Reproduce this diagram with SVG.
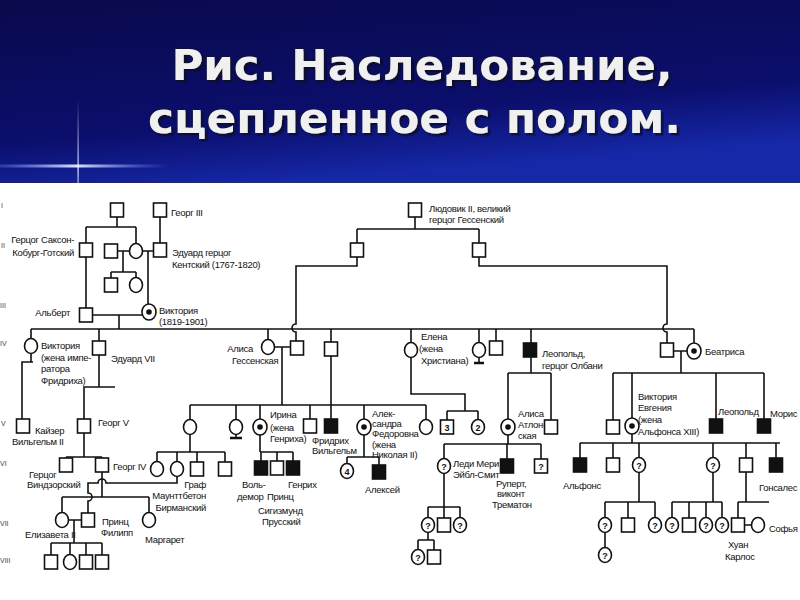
<svg xmlns="http://www.w3.org/2000/svg" width="800" height="600" viewBox="0 0 800 600">
<defs>
<linearGradient id="hdr" x1="0" y1="0" x2="0.35" y2="1">
<stop offset="0" stop-color="#0a0a4c"/>
<stop offset="0.7" stop-color="#0b0e6c"/>
<stop offset="1" stop-color="#1628a8"/>
</linearGradient>
<linearGradient id="streak" x1="0" y1="0" x2="1" y2="0">
<stop offset="0" stop-color="#6f86ff" stop-opacity="0.3"/>
<stop offset="0.45" stop-color="#e8eeff" stop-opacity="0.95"/>
<stop offset="1" stop-color="#6f86ff" stop-opacity="0"/>
</linearGradient>
<linearGradient id="vstreak" x1="0" y1="0" x2="0" y2="1">
<stop offset="0" stop-color="#ffffff" stop-opacity="0"/>
<stop offset="0.8" stop-color="#ffffff" stop-opacity="0.9"/>
<stop offset="1" stop-color="#ffffff" stop-opacity="0.6"/>
</linearGradient>
<filter id="shadow" x="-5%" y="-20%" width="110%" height="150%">
<feDropShadow dx="2.5" dy="2.5" stdDeviation="0.6" flood-color="#111111" flood-opacity="0.8"/>
</filter>
<rect id="sq" x="-6.5" y="-7" width="13" height="14" fill="#fff" stroke="#111" stroke-width="1.6"/>
<rect id="sqf" x="-6.5" y="-7" width="13" height="14" fill="#111" stroke="#111" stroke-width="1.6"/>
<ellipse id="ci" rx="6.5" ry="7.5" fill="#fff" stroke="#111" stroke-width="1.6"/>
<g id="cc"><ellipse rx="7" ry="8" fill="#fff" stroke="#111" stroke-width="1.6"/><circle r="2.8" fill="#111"/></g>
</defs>
<style>
.ln{fill:none;stroke:#111;stroke-width:1.6}
.bar{fill:none;stroke:#111;stroke-width:2.6}
.t{font-family:"Liberation Sans",Arial,sans-serif;font-size:9.5px;fill:#111;letter-spacing:-0.3px}
.e{text-anchor:end}
.q{font-family:"Liberation Sans",Arial,sans-serif;font-size:9px;font-weight:bold;fill:#111;text-anchor:middle}
.r{font-family:"Liberation Sans",Arial,sans-serif;font-size:7px;fill:#444}
.ttl{font-family:"DejaVu Sans",Verdana,sans-serif;font-weight:bold;font-size:43px;text-anchor:middle;fill:#f0f0f0}
</style>
<rect x="0" y="0" width="800" height="600" fill="#fff"/>
<g id="header">
<rect x="0" y="0" width="800" height="183" fill="url(#hdr)"/>
<rect x="0" y="164.5" width="170" height="3" fill="url(#streak)"/>
<rect x="77.5" y="100" width="1.2" height="86" fill="url(#vstreak)"/>
<g filter="url(#shadow)">
<text class="ttl" x="422" y="80" textLength="501" lengthAdjust="spacingAndGlyphs">Рис. Наследование,</text>
<text class="ttl" x="414.5" y="133" textLength="533" lengthAdjust="spacingAndGlyphs">сцепленное с полом.</text>
</g>
</g>
<g id="generations">
<text class="r" x="1" y="208">I</text>
<text class="r" x="1" y="248">II</text>
<text class="r" x="0" y="308">III</text>
<text class="r" x="0" y="346">IV</text>
<text class="r" x="1" y="426">V</text>
<text class="r" x="0" y="466">VI</text>
<text class="r" x="0" y="526">VII</text>
<text class="r" x="0" y="563">VIII</text>
</g>
<g id="connectors">
<path class="ln" d="M117,217V227 M86,227H136 M86,227V243 M136,227V243.5 M160,217V243 M117.5,251H129.5 M123,251V272 M111,272H136 M111,272V278 M136,272V277.5 M142.5,251H153.5 M148,251V304 M86,257V308"/>
<path class="ln" d="M92.5,315H142 M119,315V329 M31,329H694 M31,329V338.5 M99,329V341 M268,329V339.5 M331,329V342 M411,329V342.5 M479,329V342.5 M496,329V341 M531,329V343 M694,329V343"/>
<path class="ln" d="M415,217V229 M357,229H479 M357,229V243 M479,229V243 M357,257V266H296V324a4,4 0 0 0 0,8V341 M479,257V266H667V324a4,4 0 0 0 0,8V343"/>
<path class="ln" d="M31,353.5V362 M33,362H22V419 M99,355V387 M115,387H84V419 M84,433V457 M66,457H102 M66,457V458 M102,457V458 M102,472V497 M62,497H149 M62,497V512.5 M149,497V512.5"/>
<path class="ln" d="M177,476.5V483H106a4,4 0 0 0 -8,0H88V493a4,4 0 0 1 0,8V513 M68.5,520H81.5 M74,520V543 M51,543H102 M51,543V555 M70,543V554.5 M86,543V555 M102,543V555"/>
<path class="ln" d="M274.5,347H290.5 M282,347V405 M190,405H426 M190,405V419.5 M236,405V419.5 M260,405V419 M310,405V419 M331,356V419 M364,405V419 M426,405V419.5"/>
<path class="ln" d="M236,434.5V438 M479,357.5V363"/>
<path class="bar" d="M230,438H242 M474,363H484"/>
<path class="ln" d="M190,434.5V452 M157,452H225 M157,452V461.5 M177,452V461.5 M197,452V462 M225,452V462 M260,435V452 M260,452H293 M261,452V461 M277,452V461 M293,452V461 M364,435V457 M347,457H379 M347,457V463.5 M379,457V465"/>
<path class="ln" d="M411,357.5V394H465V411 M447,411H478 M447,411V420 M478,411V419.5"/>
<path class="ln" d="M531,357V373 M508,373H551 M508,373V419 M551,373V420 M508,435V444 M444,444H541 M444,444V458.5 M507,444V459 M541,444V459 M444,473.5V507 M428,507H460 M428,507V517.5 M444,507V518 M460,507V517.5 M428,532.5V540 M418,540H434 M418,540V549.5 M434,540V550"/>
<path class="ln" d="M673.5,351H687 M681,351V373 M613,373H764 M613,373V420 M632,373V418 M716,373V419 M764,373V419 M632,434V443 M580,443H780 M580,443V458 M613,443V458 M639,443V457.5 M713,443V457.5 M746,443V458 M776,443V458"/>
<path class="ln" d="M639,472.5V502 M605,502H655 M605,502V517.5 M628,502V518 M655,502V517.5 M605,532.5V547.5 M713,472.5V502 M672,502H722 M672,502V517.5 M689,502V518 M706,502V517.5 M722,502V517.5 M746,472V502 M738,502H769 M738,502V518 M744.5,525H751.5"/>
</g>
<g id="n-saxe-father"><use href="#sq" x="117" y="210"/></g>
<g id="n-georg3"><use href="#sq" x="160" y="210"/><text class="t" x="171" y="216">Георг III</text></g>
<g id="n-saxe"><use href="#sq" x="86" y="250"/><text class="t e" x="74" y="243">Герцог Саксон-</text><text class="t e" x="74" y="256">Кобург-Готский</text></g>
<g id="n-ii-husband"><use href="#sq" x="111" y="251"/></g>
<g id="n-ii-wife"><use href="#ci" x="136" y="251"/></g>
<g id="n-ii-son"><use href="#sq" x="111" y="285"/></g>
<g id="n-ii-daughter"><use href="#ci" x="136" y="285"/></g>
<g id="n-edward-kent"><use href="#sq" x="160" y="250"/><text class="t" x="172" y="256">Эдуард герцог</text><text class="t" x="172" y="268">Кентский (1767-1820)</text></g>
<g id="n-albert"><use href="#sq" x="86" y="315"/><text class="t e" x="70" y="316">Альберт</text></g>
<g id="n-victoria"><use href="#cc" x="149" y="312"/><text class="t" x="159" y="314">Виктория</text><text class="t" x="159" y="325">(1819-1901)</text></g>
<g id="n-ludwig2"><use href="#sq" x="415" y="210"/><text class="t" x="429" y="212">Людовик II, великий</text><text class="t" x="429" y="223">герцог Гессенский</text></g>
<g id="n-ludwig2-son1"><use href="#sq" x="357" y="250"/></g>
<g id="n-ludwig2-son2"><use href="#sq" x="479" y="250"/></g>
<g id="n-vicky"><use href="#ci" x="31" y="346"/><text class="t" x="41" y="349">Виктория</text><text class="t" x="41" y="361">(жена импе-</text><text class="t" x="41" y="372">ратора</text><text class="t" x="41" y="384">Фридриха)</text></g>
<g id="n-edward7"><use href="#sq" x="99" y="348"/><text class="t" x="111" y="362">Эдуард VII</text></g>
<g id="n-alice"><use href="#ci" x="268" y="347"/><text class="t e" x="253" y="352">Алиса</text><text class="t" x="232" y="364">Гессенская</text></g>
<g id="n-ludwig4"><use href="#sq" x="297" y="348"/></g>
<g id="n-alfred"><use href="#sq" x="331" y="349"/></g>
<g id="n-helena"><use href="#ci" x="411" y="350"/><text class="t" x="421" y="340">Елена</text><text class="t" x="419" y="352">(жена</text><text class="t" x="421" y="364">Христиана)</text></g>
<g id="n-louise"><use href="#ci" x="479" y="350"/></g>
<g id="n-arthur"><use href="#sq" x="496" y="348"/></g>
<g id="n-leopold"><use href="#sqf" x="530" y="350"/><text class="t" x="542" y="357">Леопольд,</text><text class="t" x="542" y="369">герцог Олбани</text></g>
<g id="n-henry-battenberg"><use href="#sq" x="667" y="350"/></g>
<g id="n-beatrice"><use href="#cc" x="694" y="351"/><text class="t" x="705" y="355">Беатриса</text></g>
<g id="n-kaiser"><use href="#sq" x="23" y="426"/><text class="t" x="35" y="434">Кайзер</text><text class="t" x="12" y="445">Вильгельм II</text></g>
<g id="n-georg5"><use href="#sq" x="84" y="426"/><text class="t" x="98" y="426">Георг V</text></g>
<g id="n-victoria-hesse"><use href="#ci" x="190" y="427"/></g>
<g id="n-ella"><use href="#ci" x="236" y="427"/></g>
<g id="n-irene"><use href="#cc" x="260" y="427"/><text class="t" x="270" y="418">Ирина</text><text class="t" x="270" y="431">(жена</text><text class="t" x="270" y="442">Генриха)</text></g>
<g id="n-ernst"><use href="#sq" x="310" y="426"/></g>
<g id="n-friedrich"><use href="#sqf" x="331" y="426"/><text class="t" x="312" y="444">Фридрих</text><text class="t" x="312" y="454">Вильгельм</text></g>
<g id="n-alexandra"><use href="#cc" x="364" y="427"/><text class="t" x="372" y="417">Алек-</text><text class="t" x="372" y="427">сандра</text><text class="t" x="372" y="437">Федоровна</text><text class="t" x="372" y="448">(жена</text><text class="t" x="372" y="458">Николая II)</text></g>
<g id="n-marie"><use href="#ci" x="426" y="427"/></g>
<g id="n-helena-sons"><use href="#sq" x="447" y="427"/><text class="q" x="447" y="430.5">3</text></g>
<g id="n-helena-daughters"><use href="#ci" x="478" y="427"/><text class="q" x="478" y="430.5">2</text></g>
<g id="n-alice-athlone"><use href="#cc" x="508" y="427"/><text class="t" x="518" y="417">Алиса</text><text class="t" x="518" y="428">Атлон-</text><text class="t" x="518" y="439">ская</text></g>
<g id="n-charles-edward"><use href="#sq" x="551" y="427"/></g>
<g id="n-alexander"><use href="#sq" x="613" y="427"/></g>
<g id="n-victoria-eugenia"><use href="#cc" x="632" y="426"/><text class="t" x="638" y="400">Виктория</text><text class="t" x="638" y="411">Евгения</text><text class="t" x="638" y="423">(жена</text><text class="t" x="638" y="435">Альфонса XIII)</text></g>
<g id="n-leopold-b"><use href="#sqf" x="716" y="426"/><text class="t" x="718" y="415">Леопольд</text></g>
<g id="n-maurice"><use href="#sqf" x="764" y="426"/><text class="t" x="770" y="417">Морис</text></g>
<g id="n-windsor"><use href="#sq" x="66" y="465"/><text class="t" x="29" y="478">Герцог</text><text class="t" x="27" y="488">Виндзорский</text></g>
<g id="n-georg4"><use href="#sq" x="102" y="465"/><text class="t" x="113" y="470">Георг IV</text></g>
<g id="n-vh-daughter1"><use href="#ci" x="157" y="469"/></g>
<g id="n-vh-daughter2"><use href="#ci" x="177" y="469"/></g>
<g id="n-mountbatten"><use href="#sq" x="197" y="469"/><text class="t e" x="206" y="488">Граф</text><text class="t e" x="206" y="499">Маунттбетон</text><text class="t e" x="206" y="511">Бирманский</text></g>
<g id="n-vh-son2"><use href="#sq" x="225" y="469"/></g>
<g id="n-waldemar"><use href="#sqf" x="261" y="468"/><text class="t" x="242" y="488">Воль-</text><text class="t" x="237" y="500">демор</text></g>
<g id="n-sigismund"><use href="#sq" x="277" y="468"/><text class="t" x="267" y="500">Принц</text><text class="t" x="258" y="514">Сигизмунд</text><text class="t" x="262" y="525">Прусский</text></g>
<g id="n-heinrich"><use href="#sqf" x="293" y="468"/><text class="t" x="288" y="488">Генрих</text></g>
<g id="n-alexandra-daughters"><use href="#ci" x="347" y="471"/><text class="q" x="347" y="474.5">4</text></g>
<g id="n-alexei"><use href="#sqf" x="379" y="472"/><text class="t" x="365" y="493">Алексей</text></g>
<g id="n-lady-mary"><use href="#ci" x="444" y="466"/><text class="q" x="444" y="469.5">?</text><text class="t" x="453" y="467">Леди Мери</text><text class="t" x="453" y="478">Эйбл-Смит</text></g>
<g id="n-rupert"><use href="#sqf" x="507" y="466"/><text class="t" x="496" y="487">Руперт,</text><text class="t" x="497" y="497">виконт</text><text class="t" x="492" y="508">Трематон</text></g>
<g id="n-athlone-son"><use href="#sq" x="541" y="466"/><text class="q" x="541" y="469.5">?</text></g>
<g id="n-alfonso"><use href="#sqf" x="580" y="465"/><text class="t" x="563" y="489">Альфонс</text></g>
<g id="n-ve-son2"><use href="#sq" x="613" y="465"/></g>
<g id="n-ve-daughter1"><use href="#ci" x="639" y="465"/><text class="q" x="639" y="468.5">?</text></g>
<g id="n-ve-daughter2"><use href="#ci" x="713" y="465"/><text class="q" x="713" y="468.5">?</text></g>
<g id="n-ve-son3"><use href="#sq" x="746" y="465"/></g>
<g id="n-gonzalo"><use href="#sqf" x="776" y="465"/><text class="t" x="759" y="491">Гонсалес</text></g>
<g id="n-elizabeth2"><use href="#ci" x="62" y="520"/><text class="t" x="25" y="538">Елизавета II</text></g>
<g id="n-philip"><use href="#sq" x="88" y="520"/><text class="t" x="102" y="525">Принц</text><text class="t" x="101" y="536">Филипп</text></g>
<g id="n-margaret"><use href="#ci" x="149" y="520"/><text class="t" x="145" y="543">Маргарет</text></g>
<g id="n-lm-c1"><use href="#ci" x="428" y="525"/><text class="q" x="428" y="528.5">?</text></g>
<g id="n-lm-c2"><use href="#sq" x="444" y="525"/></g>
<g id="n-lm-c3"><use href="#ci" x="460" y="525"/><text class="q" x="460" y="528.5">?</text></g>
<g id="n-d1-c1"><use href="#ci" x="605" y="525"/><text class="q" x="605" y="528.5">?</text></g>
<g id="n-d1-c2"><use href="#sq" x="628" y="525"/></g>
<g id="n-d1-c3"><use href="#ci" x="655" y="525"/><text class="q" x="655" y="528.5">?</text></g>
<g id="n-d2-c1"><use href="#ci" x="672" y="525"/><text class="q" x="672" y="528.5">?</text></g>
<g id="n-d2-c2"><use href="#sq" x="689" y="525"/></g>
<g id="n-d2-c3"><use href="#ci" x="706" y="525"/><text class="q" x="706" y="528.5">?</text></g>
<g id="n-d2-c4"><use href="#ci" x="722" y="525"/><text class="q" x="722" y="528.5">?</text></g>
<g id="n-juan-carlos"><use href="#sq" x="738" y="525"/><text class="t" x="728" y="548">Хуан</text><text class="t" x="725" y="560">Карлос</text></g>
<g id="n-sofia"><use href="#ci" x="758" y="525"/><text class="t" x="769" y="532">Софья</text></g>
<g id="n-e2-c1"><use href="#sq" x="51" y="562"/></g>
<g id="n-e2-c2"><use href="#ci" x="70" y="562"/></g>
<g id="n-e2-c3"><use href="#sq" x="86" y="562"/></g>
<g id="n-e2-c4"><use href="#sq" x="102" y="562"/></g>
<g id="n-gc-c1"><use href="#ci" x="418" y="557"/><text class="q" x="418" y="560.5">?</text></g>
<g id="n-gc-c2"><use href="#sq" x="434" y="557"/></g>
<g id="n-gc-c3"><use href="#ci" x="605" y="555"/><text class="q" x="605" y="558.5">?</text></g>
</svg>
